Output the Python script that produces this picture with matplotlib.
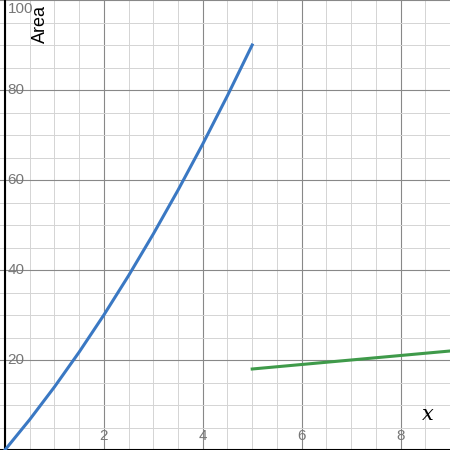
import matplotlib
matplotlib.use('Agg')
import matplotlib.pyplot as plt
import numpy as np

# values
blue_x = [0, 0.5, 1, 1.5, 2, 2.5, 3, 3.5, 4, 4.5, 5]
blue_y = [0, 6.75, 14, 21.75, 30, 38.75, 48, 57.75, 68, 78.75, 90]
green_x = [5, 9]
green_y = [18, 22]
x_ticks = [2, 4, 6, 8]
y_ticks = [20, 40, 60, 80, 100]

plt.rcParams['font.family'] = ['Liberation Sans', 'DejaVu Sans']

fig = plt.figure(figsize=(4.5, 4.5), dpi=100)
ax = fig.add_axes([0, 0, 1, 1])
ax.set_xlim(-0.1, 9)
ax.set_ylim(0, 100)

for v in np.arange(0, 9.01, 0.5):
    major = abs(v - round(v / 2) * 2) < 1e-9
    ax.axvline(v, color='#888888' if major else '#d4d4d4', lw=0.8 if major else 0.7, zorder=0)
for v in np.arange(0, 100.01, 5):
    major = v % 20 == 0
    ax.axhline(v, color='#888888' if major else '#d4d4d4', lw=0.8 if major else 0.7, zorder=0)
ax.axvline(0, color='black', lw=1.5, zorder=1)
ax.axhline(0, color='black', lw=1.5, zorder=1)

ax.plot(blue_x, blue_y, color='#3a78c3', lw=2.2, zorder=3)
ax.plot(green_x, green_y, color='#3f9a4a', lw=2.2, zorder=3)

for t in x_ticks:
    ax.text(t, 1.5, str(t), color='#777777', fontsize=11, ha='center', va='bottom')
for t in y_ticks:
    if t == 100:
        ax.text(0.05, 99.5, str(t), color='#777777', fontsize=11, ha='left', va='top')
    else:
        ax.text(0.05, t, str(t), color='#777777', fontsize=11, ha='left', va='center')

ax.text(0.72, 98.8, 'Area', rotation=90, fontsize=13, ha='center', va='top')
ax.text(8.55, 7.8, 'x', fontsize=15, style='italic', family='DejaVu Serif', ha='center', va='center')

ax.set_xticks([])
ax.set_yticks([])
for s in ax.spines.values():
    s.set_visible(False)
fig.savefig('out.png', dpi=100)
